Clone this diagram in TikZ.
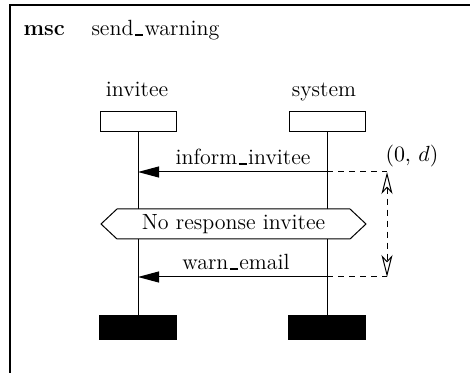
\documentclass[tikz,border=0pt]{standalone}
\usetikzlibrary{arrows.meta}
\newcommand\usc{\leavevmode\kern.06em\vbox{\hrule width.38em height 0.9pt}\kern.06em}
\begin{document}
\begin{tikzpicture}[x=0.5pt,y=-0.5pt, font=\fontsize{11}{13}\selectfont, line width=0.5pt,
  head/.style={draw, minimum width=38pt, minimum height=10pt, inner sep=0pt},
  foot/.style={draw, fill=black, minimum width=38.5pt, minimum height=12pt, inner sep=0pt},
  msg/.style={-{Triangle[length=10.5pt,width=5.5pt]}},
  ext/.style={dash pattern=on 3pt off 2.5pt},
  meas/.style={dash pattern=on 3pt off 2.5pt,
    {Stealth[open,length=11pt,width=5.5pt,inset=3pt]}-{Stealth[open,length=11pt,width=5.5pt,inset=3pt]}},
  lbl/.style={inner sep=0pt, anchor=base}]
\useasboundingbox (0,0) rectangle (470,373);
\draw[line width=0.75pt] (10,373) -- (10,5) -- (470,5);
\node[inner sep=0pt, anchor=base west, font=\fontsize{11}{13}\selectfont\bfseries] (msc) at (23,36) {msc};
\node[inner sep=0pt, anchor=base west] (title) at (91,36) {send\usc warning};
\node[lbl] (invname) at (137,97) {invitee};
\node[lbl] (sysname) at (324,97) {system};
\node[head] (invhead) at (138,122) {};
\node[head] (syshead) at (327,122) {};
\node[foot] (invfoot) at (138,327) {};
\node[foot] (sysfoot) at (327,327) {};
\draw (invhead) -- (invfoot);
\draw (syshead) -- (sysfoot);
\coordinate (i1) at (138,172);
\coordinate (s1) at (327,172);
\coordinate (d1) at (387,172);
\coordinate (i2) at (138,277);
\coordinate (s2) at (327,277);
\coordinate (d2) at (387,277);
\draw[msg] (s1) -- (i1);
\draw[ext] (s1) -- (d1);
\draw[msg] (s2) -- (i2);
\draw[ext] (s2) -- (d2);
\node[lbl] (m1) at (243,165) {inform\usc invitee};
\node[lbl] (m2) at (236,270) {warn\usc email};
\node[inner sep=0pt, anchor=base west] (dl) at (385,162) {$(0,\,d)$};
\draw[meas] (d1) -- (d2);
\draw[fill=white] (101,224) -- (117,209) -- (350,209) -- (366,224) -- (350,239) -- (117,239) -- cycle;
\node[inner sep=0pt] (cond) at (233.5,224) {No response invitee};
\end{tikzpicture}
\end{document}
